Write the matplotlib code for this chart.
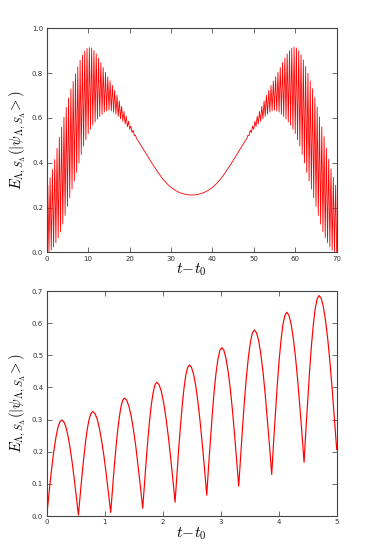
import numpy as np
import matplotlib
matplotlib.use("Agg")
import matplotlib.pyplot as plt

plt.rcParams['mathtext.fontset'] = 'cm'
plt.rcParams['font.family'] = ['DejaVu Sans']

# ---------------- top panel data (t - t0 from 0 to 70) ----------------
top_left_peak_t = [0.260, 0.817, 1.374, 1.931, 2.488, 3.045, 3.602, 4.159, 4.716, 5.273,
                   5.830, 6.387, 6.944, 7.501, 8.058, 8.615, 9.172, 9.729, 10.286, 10.843,
                   11.400, 11.957, 12.514, 13.071, 13.628, 14.185, 14.742, 15.299, 15.856, 16.413,
                   16.970, 17.527, 18.084, 18.641, 19.198, 19.755, 20.312, 20.869, 21.426, 21.983]
top_left_peak_y = [0.300, 0.333, 0.370, 0.414, 0.464, 0.514, 0.558, 0.603, 0.647, 0.689,
                   0.728, 0.763, 0.797, 0.828, 0.857, 0.880, 0.898, 0.910, 0.914, 0.912,
                   0.901, 0.886, 0.867, 0.847, 0.825, 0.804, 0.784, 0.765, 0.745, 0.723,
                   0.701, 0.676, 0.652, 0.629, 0.607, 0.585, 0.564, 0.545, 0.523, 0.501]
top_left_trough_t = [0.000, 0.545, 1.102, 1.659, 2.216, 2.773, 3.330, 3.887, 4.444, 5.001,
                     5.558, 6.115, 6.672, 7.229, 7.786, 8.343, 8.900, 9.457, 10.014, 10.571,
                     11.128, 11.685, 12.242, 12.799, 13.356, 13.913, 14.470, 15.027, 15.584, 16.141,
                     16.698, 17.255, 17.812, 18.369, 18.926, 19.483, 20.040, 20.597, 21.154, 21.711]
top_left_trough_y = [0.000, 0.003, 0.010, 0.024, 0.043, 0.065, 0.092, 0.126, 0.165, 0.205,
                     0.244, 0.282, 0.319, 0.357, 0.399, 0.437, 0.474, 0.503, 0.530, 0.550,
                     0.568, 0.582, 0.595, 0.606, 0.616, 0.626, 0.631, 0.635, 0.631, 0.626,
                     0.617, 0.607, 0.596, 0.585, 0.573, 0.561, 0.549, 0.535, 0.521, 0.507]

top_mid_t = [22.5, 23, 24, 25, 26, 27, 28, 29, 30, 31, 32, 33, 34, 35,
             36, 37, 38, 39, 40, 41, 42, 43, 44, 45, 46, 47, 47.5]
top_mid_y = [0.485, 0.470, 0.440, 0.410, 0.381, 0.353, 0.328, 0.307, 0.290, 0.277, 0.267, 0.261, 0.257, 0.256,
             0.257, 0.261, 0.267, 0.277, 0.290, 0.307, 0.328, 0.353, 0.381, 0.410, 0.440, 0.470, 0.485]

top_right_peak_t = [48.017, 48.574, 49.131, 49.688, 50.245, 50.802, 51.359, 51.916, 52.473, 53.030,
                    53.587, 54.144, 54.701, 55.258, 55.815, 56.372, 56.929, 57.486, 58.043, 58.600,
                    59.157, 59.714, 60.271, 60.828, 61.385, 61.942, 62.499, 63.056, 63.613, 64.170,
                    64.727, 65.284, 65.841, 66.398, 66.955, 67.512, 68.069, 68.626, 69.183, 69.740]
top_right_peak_y = [0.501, 0.523, 0.545, 0.564, 0.585, 0.607, 0.629, 0.652, 0.676, 0.701,
                    0.723, 0.745, 0.765, 0.784, 0.804, 0.825, 0.847, 0.867, 0.886, 0.901,
                    0.912, 0.916, 0.912, 0.900, 0.882, 0.859, 0.830, 0.799, 0.765, 0.730,
                    0.691, 0.649, 0.605, 0.560, 0.516, 0.466, 0.416, 0.372, 0.335, 0.300]
top_right_trough_t = [48.289, 48.846, 49.403, 49.960, 50.517, 51.074, 51.631, 52.188, 52.745, 53.302,
                      53.859, 54.416, 54.973, 55.530, 56.087, 56.644, 57.201, 57.758, 58.315, 58.872,
                      59.429, 59.986, 60.543, 61.100, 61.657, 62.214, 62.771, 63.328, 63.885, 64.442,
                      64.999, 65.556, 66.113, 66.670, 67.227, 67.784, 68.341, 68.898, 69.455, 70.000]
top_right_trough_y = [0.507, 0.521, 0.535, 0.549, 0.561, 0.573, 0.585, 0.596, 0.607, 0.617,
                      0.626, 0.631, 0.635, 0.631, 0.626, 0.616, 0.606, 0.595, 0.582, 0.568,
                      0.550, 0.530, 0.503, 0.474, 0.437, 0.399, 0.357, 0.319, 0.282, 0.244,
                      0.205, 0.165, 0.126, 0.092, 0.065, 0.043, 0.024, 0.010, 0.003, 0.000]

# ---------------- bottom panel data (t - t0 from 0 to 5) ----------------
bot_t = [0.000, 0.032, 0.065, 0.097, 0.130, 0.162, 0.194, 0.227, 0.259,
         0.295, 0.331, 0.367, 0.403, 0.438, 0.474, 0.510, 0.546,
         0.577, 0.608, 0.639, 0.670, 0.700, 0.731, 0.762, 0.793,
         0.832, 0.871, 0.909, 0.948, 0.987, 1.026, 1.064, 1.103,
         1.133, 1.162, 1.192, 1.221, 1.251, 1.280, 1.310, 1.339,
         1.379, 1.418, 1.458, 1.497, 1.537, 1.576, 1.616, 1.655,
         1.685, 1.716, 1.746, 1.776, 1.806, 1.837, 1.867, 1.897,
         1.937, 1.976, 2.016, 2.055, 2.095, 2.134, 2.174, 2.213,
         2.244, 2.275, 2.306, 2.337, 2.367, 2.398, 2.429, 2.460,
         2.497, 2.535, 2.572, 2.610, 2.647, 2.684, 2.722, 2.759,
         2.791, 2.824, 2.856, 2.888, 2.920, 2.953, 2.985, 3.017,
         3.054, 3.090, 3.127, 3.164, 3.200, 3.237, 3.273, 3.310,
         3.344, 3.378, 3.411, 3.445, 3.479, 3.513, 3.546, 3.580,
         3.617, 3.655, 3.692, 3.730, 3.767, 3.804, 3.842, 3.879,
         3.911, 3.944, 3.976, 4.008, 4.041, 4.073, 4.106, 4.138,
         4.175, 4.213, 4.250, 4.288, 4.325, 4.362, 4.400, 4.437,
         4.469, 4.502, 4.534, 4.566, 4.598, 4.631, 4.663, 4.695,
         4.733, 4.771, 4.809, 4.848, 4.886, 4.924, 4.962, 5.000]
bot_y = [0.000, 0.058, 0.115, 0.166, 0.211, 0.248, 0.276, 0.293, 0.299,
         0.293, 0.277, 0.249, 0.212, 0.168, 0.116, 0.061, 0.003,
         0.066, 0.126, 0.182, 0.231, 0.271, 0.301, 0.319, 0.325,
         0.319, 0.301, 0.272, 0.233, 0.186, 0.131, 0.072, 0.011,
         0.080, 0.147, 0.209, 0.263, 0.307, 0.340, 0.360, 0.367,
         0.360, 0.341, 0.309, 0.267, 0.215, 0.155, 0.091, 0.024,
         0.100, 0.174, 0.242, 0.301, 0.350, 0.386, 0.409, 0.416,
         0.409, 0.388, 0.353, 0.307, 0.250, 0.186, 0.116, 0.043,
         0.126, 0.207, 0.280, 0.345, 0.398, 0.438, 0.462, 0.470,
         0.462, 0.439, 0.402, 0.351, 0.290, 0.220, 0.144, 0.065,
         0.155, 0.241, 0.320, 0.390, 0.446, 0.489, 0.515, 0.524,
         0.516, 0.491, 0.451, 0.398, 0.333, 0.258, 0.177, 0.093,
         0.188, 0.279, 0.363, 0.437, 0.497, 0.542, 0.570, 0.579,
         0.570, 0.545, 0.503, 0.447, 0.379, 0.301, 0.217, 0.129,
         0.227, 0.322, 0.410, 0.486, 0.549, 0.596, 0.624, 0.634,
         0.625, 0.598, 0.555, 0.497, 0.427, 0.346, 0.258, 0.167,
         0.268, 0.366, 0.456, 0.534, 0.598, 0.647, 0.676, 0.686,
         0.677, 0.650, 0.605, 0.546, 0.473, 0.390, 0.300, 0.207]

top_xticks = [0, 10, 20, 30, 40, 50, 60, 70]
top_yticks = [0.0, 0.2, 0.4, 0.6, 0.8, 1.0]
bot_xticks = [0, 1, 2, 3, 4, 5]
bot_yticks = [0.0, 0.1, 0.2, 0.3, 0.4, 0.5, 0.6, 0.7]

xlabel = r'$t\!-\!t_0$'
ylabel = r'$E_{\Lambda,S_\Lambda}(|\psi_{\Lambda,S_\Lambda}\!>)$'

t_all = np.array(top_left_peak_t + top_left_trough_t + top_mid_t +
                 top_right_peak_t + top_right_trough_t)
y_all = np.array(top_left_peak_y + top_left_trough_y + top_mid_y +
                 top_right_peak_y + top_right_trough_y)
order = np.argsort(t_all)
t_all = t_all[order]
y_all = y_all[order]

fig = plt.figure(figsize=(3.74, 5.45), dpi=100)
ax1 = fig.add_axes([0.1249, 0.537, 0.7754, 0.411])
ax2 = fig.add_axes([0.1249, 0.0532, 0.7754, 0.4128])

ax1.plot(t_all, y_all, color='red', lw=0.6)
ax1.set_xlim(0, 70)
ax1.set_ylim(0, 1.0)
ax1.set_xticks(top_xticks)
ax1.set_yticks(top_yticks)
ax1.set_yticklabels(['%.1f' % v for v in top_yticks])

ax2.plot(bot_t, bot_y, color='red', lw=0.85)
ax2.set_xlim(0, 5)
ax2.set_ylim(0, 0.7)
ax2.set_xticks(bot_xticks)
ax2.set_yticks(bot_yticks)
ax2.set_yticklabels(['%.1f' % v for v in bot_yticks])

for ax in (ax1, ax2):
    ax.tick_params(direction='in', top=True, right=True, length=3.5, width=0.5,
                   labelsize=5, pad=2.5, colors='#333333')
    for sp in ax.spines.values():
        sp.set_color('#444444')
        sp.set_linewidth(0.8)
    ax.set_xlabel(xlabel, fontsize=11, labelpad=0)
    ax.set_ylabel(ylabel, fontsize=10.5, labelpad=3)

fig.savefig('out.png', dpi=100)
